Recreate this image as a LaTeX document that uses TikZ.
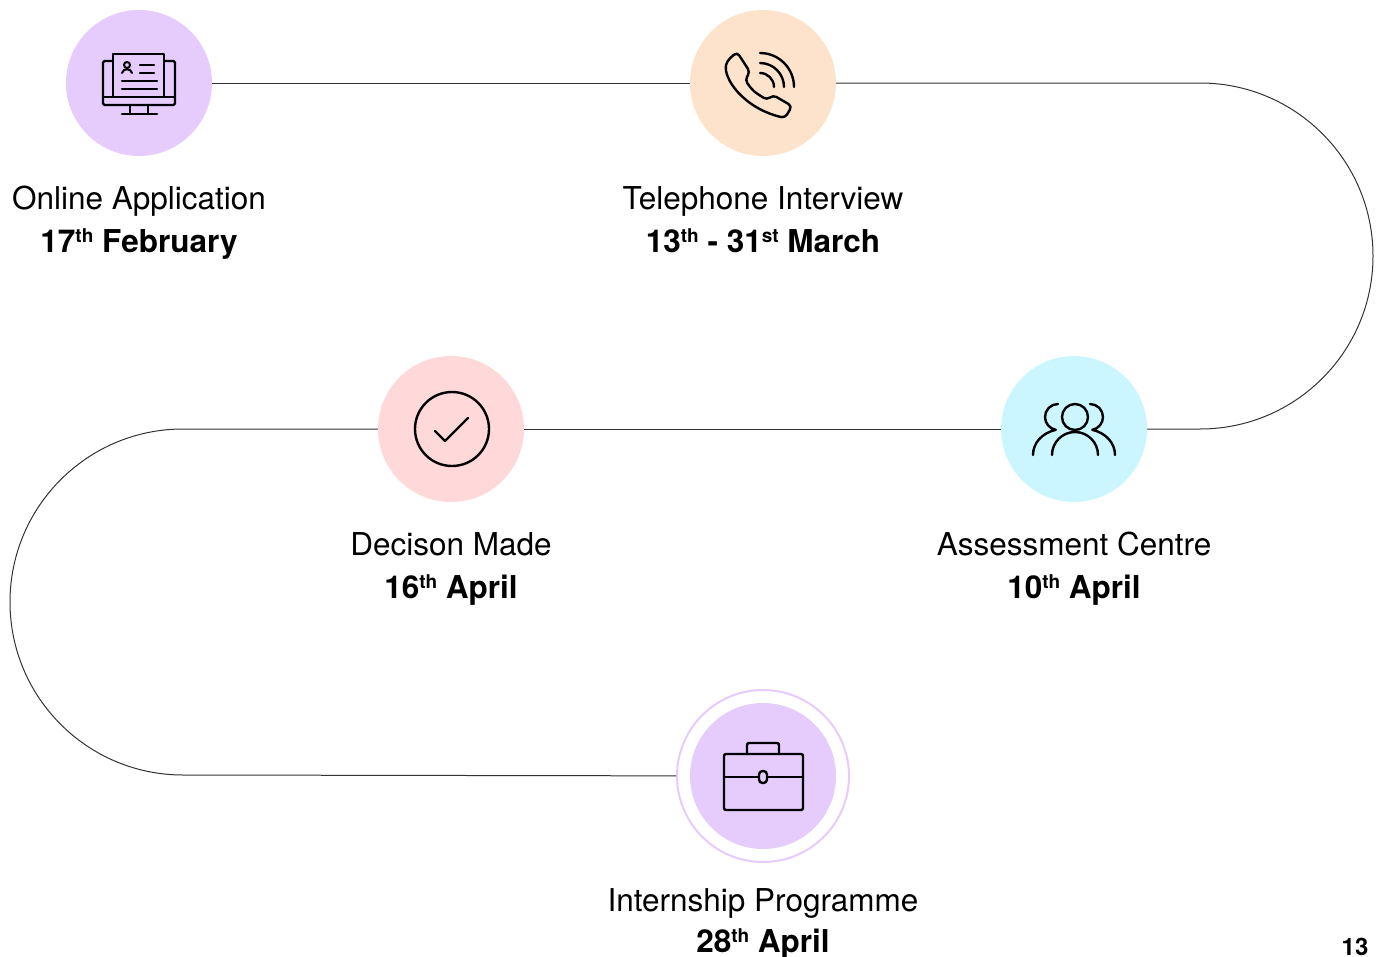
\documentclass[tikz,border=0pt]{standalone}
\usepackage{fontspec}
\setmainfont{TeX Gyre Heros}
\usetikzlibrary{positioning}
\definecolor{lilac}{HTML}{E6CCFD}
\definecolor{peach}{HTML}{FDE3CB}
\definecolor{rose}{HTML}{FFD9DA}
\definecolor{aqua}{HTML}{CCF6FF}
\newcommand{\ordsup}[1]{\raisebox{10pt}{\fontsize{19}{19}\selectfont #1}}
\tikzset{stage/.style={circle, draw=none, inner sep=0pt, minimum size=146pt},
ring/.style={circle, draw=lilac, line width=2pt, fill=white, inner sep=0pt, minimum size=172pt},
icon/.style={line width=2.4pt, line cap=round, line join=round},
track/.style={draw=black!80, line width=1pt},
title/.style={anchor=base, inner sep=0pt, font=\fontsize{31.5}{31.5}\selectfont},
date/.style={title, font=\bfseries\fontsize{31.5}{31.5}\selectfont}}
\begin{document}
\begin{tikzpicture}[x=1pt,y=-1pt]
  \useasboundingbox (0,0) rectangle (1376,956);

  \node (online) [stage, fill=lilac] at (139,83) {};
  \node (phone) [stage, fill=peach] at (763,83) {};
  \node (assess) [stage, fill=aqua] at (1074,429) {};
  \node (decide) [stage, fill=rose] at (451,429) {};
  \node (intern) [ring] at (763,776) {};
  \node (internfill) [stage, fill=lilac] at (intern) {};

  \coordinate (bendR) at (1200,83);
  \coordinate (bendL) at (183,429);

  \draw [track] (online) -- (phone);
  \draw [track] (phone) -- (bendR) arc[start angle=-90, end angle=90, radius=173] -- (assess);
  \draw [track] (assess) -- (decide);
  \draw [track] (decide) -- (bendL) arc[start angle=-90, end angle=-270, radius=173] -- (intern);

  % monitor
  \begin{scope}[shift={(online.center)}, icon]
    \draw [rounded corners=1.5] (-36,-22) rectangle (36,22);
    \draw (-36,14) -- (36,14);
    \draw [fill=lilac] (-26,-29) rectangle (25,14);
    \draw (-9,22) -- (-9,31) (9,22) -- (9,31);
    \draw (-17,31) -- (18,31);
    \draw [line width=2pt] (-12,-18) circle (3);
    \draw [line width=2pt] (-17,-10) .. controls (-16,-15) and (-8,-15) .. (-7,-10);
    \draw (1,-18) -- (15,-18) (1,-10) -- (15,-10);
    \draw (-17,-2) -- (18,-2) (-17,6) -- (18,6);
  \end{scope}

  % telephone
  \begin{scope}[shift={(phone.center)}, icon]
    \draw [rounded corners=4] (-26,-31) -- (-13,-11) -- (-18,-3)
      .. controls (-10,8) .. (4,17) -- (10,12) -- (29,23) -- (22,35)
      .. controls (-20,25) and (-40,-5) .. (-36,-22) -- cycle;
    \draw (-3,-10) arc[start angle=-90, end angle=0, radius=14];
    \draw (-3,-20) arc[start angle=-90, end angle=0, radius=24];
    \draw (-3,-30) arc[start angle=-90, end angle=0, radius=34];
  \end{scope}

  % people
  \begin{scope}[shift={(assess.center)}, icon]
    \draw (1,-12) circle (13);
    \draw (-22,26) arc[start angle=180, end angle=360, radius=23];
    \draw (-16,-25) arc[start angle=-90, end angle=-260, radius=13]
      .. controls (-32,4) and (-41,14) .. (-41,26);
    \draw (16,-25) arc[start angle=-90, end angle=80, radius=13]
      .. controls (32,4) and (41,14) .. (41,26);
  \end{scope}

  % check
  \begin{scope}[shift={(decide.center)}, icon]
    \draw (1,0) circle (37);
    \draw (-16,2) -- (-6,12) -- (17,-11);
  \end{scope}

  % briefcase
  \begin{scope}[shift={(intern.center)}, icon]
    \draw [rounded corners=2] (-39,-22) rectangle (40,34);
    \draw [rounded corners=2] (-16,-22) -- (-16,-33) -- (16,-33) -- (16,-22);
    \draw (-39,1) -- (-4,1) (4,1) -- (40,1);
    \draw [rounded corners=3.5] (-4,-5) rectangle (4,7);
  \end{scope}

  \node (onlineT) [title] at (139,209) {Online Application};
  \node (onlineD) [date] at (139,252) {17\ordsup{th} February};
  \node (phoneT) [title] at (763,209) {Telephone Interview};
  \node (phoneD) [date] at (763,252) {13\ordsup{th} - 31\ordsup{st} March};
  \node (decideT) [title] at (451,555) {Decison Made};
  \node (decideD) [date] at (451,598) {16\ordsup{th} April};
  \node (assessT) [title] at (1074,555) {Assessment Centre};
  \node (assessD) [date] at (1074,598) {10\ordsup{th} April};
  \node (internT) [title] at (763,911) {Internship Programme};
  \node (internD) [date] at (763,952) {28\ordsup{th} April};

  \node (pagenum) [anchor=base, inner sep=0pt, font=\bfseries\fontsize{24}{24}\selectfont] at (1355,955) {13};
\end{tikzpicture}
\end{document}
